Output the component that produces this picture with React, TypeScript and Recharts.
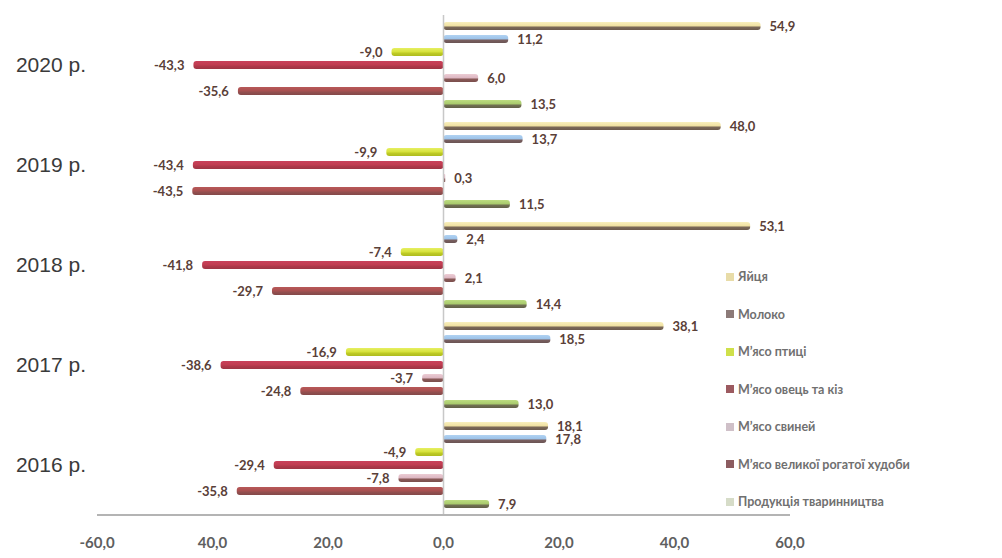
import React from "react";
import {
  BarChart,
  Bar,
  XAxis,
  YAxis,
  LabelList,
  ReferenceLine,
} from "recharts";

const categories = ["2020 р.", "2019 р.", "2018 р.", "2017 р.", "2016 р."];

const eggs = [54.9, 48.0, 53.1, 38.1, 18.1];
const milk = [11.2, 13.7, 2.4, 18.5, 17.8];
const poultry = [-9.0, -9.9, -7.4, -16.9, -4.9];
const sheep = [-43.3, -43.4, -41.8, -38.6, -29.4];
const pork = [6.0, 0.3, 2.1, -3.7, -7.8];
const cattle = [-35.6, -43.5, -29.7, -24.8, -35.8];
const livestock = [13.5, 11.5, 14.4, 13.0, 7.9];

const xTicks = [-60, -40, -20, 0, 20, 40, 60];
const xTickLabels = ["-60,0", "40,0", "20,0", "0,0", "20,0", "40,0", "60,0"];

const series = [
  { key: "eggs", name: "Яйця", values: eggs, stops: ["#f8efbd", "#efe0a0", "#7c6a58", "#6c5b4d"], marker: "#e8dca8" },
  { key: "milk", name: "Молоко", values: milk, stops: ["#b0d2f2", "#9cc2e8", "#7a6060", "#6a5454"], marker: "#8c7a78" },
  { key: "poultry", name: "М’ясо птиці", values: poultry, stops: ["#e6ef62", "#d6e23a", "#c0cc26", "#aebb1e"], marker: "#cfe04a" },
  { key: "sheep", name: "М’ясо овець та кіз", values: sheep, stops: ["#c9405a", "#c03c50", "#b0384a", "#9e3444"], marker: "#9c5a60" },
  { key: "pork", name: "М’ясо свиней", values: pork, stops: ["#ecccd4", "#dcb6c2", "#8a5a58", "#7a4e4c"], marker: "#cfc0c8" },
  { key: "cattle", name: "М’ясо великої рогатої худоби", values: cattle, stops: ["#b85858", "#a85050", "#945050", "#844848"], marker: "#8c5c60" },
  { key: "livestock", name: "Продукція тваринництва", values: livestock, stops: ["#bcdc80", "#a8ca6c", "#727252", "#625f48"], marker: "#d6dcc8" },
];

const data = categories.map((cat, i) => {
  const row: Record<string, string | number> = { cat };
  series.forEach((s) => {
    row[s.key] = s.values[i];
  });
  return row;
});

const fmt = (v: number) => v.toFixed(1).replace(".", ",");

// legend drawn beside the chart, like the Excel original
function LegendBox() {
  return (
    <div
      style={{
        position: "absolute",
        left: 726,
        top: 258,
        fontFamily: "Lato, 'Open Sans', sans-serif",
      }}
    >
      {series.map((s) => (
        <div
          key={s.key}
          style={{
            display: "flex",
            alignItems: "center",
            height: 37.5,
            fontSize: 12.5,
            fontWeight: 700,
            color: "#707070",
            whiteSpace: "nowrap",
          }}
        >
          <span
            style={{
              display: "inline-block",
              width: 8,
              height: 8,
              background: s.marker,
              marginRight: 4,
            }}
          />
          {s.name}
        </div>
      ))}
    </div>
  );
}

export default function App() {
  return (
    <div style={{ position: "absolute", left: 0, top: 0, width: 1002, height: 558, background: "#fff" }}>
      <BarChart
        width={1002}
        height={558}
        data={data}
        layout="vertical"
        margin={{ top: 15, right: 212, bottom: 0, left: 0 }}
        barSize={8}
        barGap={5}
      >
        <defs>
          {series.map((s) => (
            <linearGradient key={s.key} id={`g-${s.key}`} x1="0" y1="0" x2="0" y2="1">
              <stop offset="0%" stopColor={s.stops[0]} />
              <stop offset="50%" stopColor={s.stops[1]} />
              <stop offset="62%" stopColor={s.stops[2]} />
              <stop offset="100%" stopColor={s.stops[3]} />
            </linearGradient>
          ))}
        </defs>
        <XAxis
          type="number"
          domain={[-60, 60]}
          ticks={xTicks}
          height={43}
          axisLine={{ stroke: "#b4b4b4", strokeWidth: 2 }}
          tickLine={false}
          tickMargin={16}
          tick={{ fill: "#5f5f5f", fontSize: 15, fontWeight: 700, fontFamily: "Lato, sans-serif" }}
          tickFormatter={(v, i) => xTickLabels[i] ?? fmt(v)}
          interval={0}
        />
        <YAxis
          type="category"
          dataKey="cat"
          width={97}
          axisLine={false}
          tickLine={false}
          tickMargin={5}
          tick={{ fill: "#3a3a3a", fontSize: 21, fontFamily: "'Liberation Sans', Arial, sans-serif" }}
        />
        <ReferenceLine x={0} stroke="#c8c8c8" strokeWidth={1.5} ifOverflow="extendDomain" />
        {series.map((s) => (
          <Bar
            key={s.key}
            dataKey={s.key}
            name={s.name}
            fill={`url(#g-${s.key})`}
            radius={3}
            isAnimationActive={false}
          >
            <LabelList
              dataKey={s.key}
              position="right"
              offset={9}
              formatter={(v: number) => fmt(v)}
              style={{ fill: "#5a4038", fontSize: 13, fontWeight: 700, fontFamily: "Lato, sans-serif" }}
            />
          </Bar>
        ))}
      </BarChart>
      <LegendBox />
    </div>
  );
}
